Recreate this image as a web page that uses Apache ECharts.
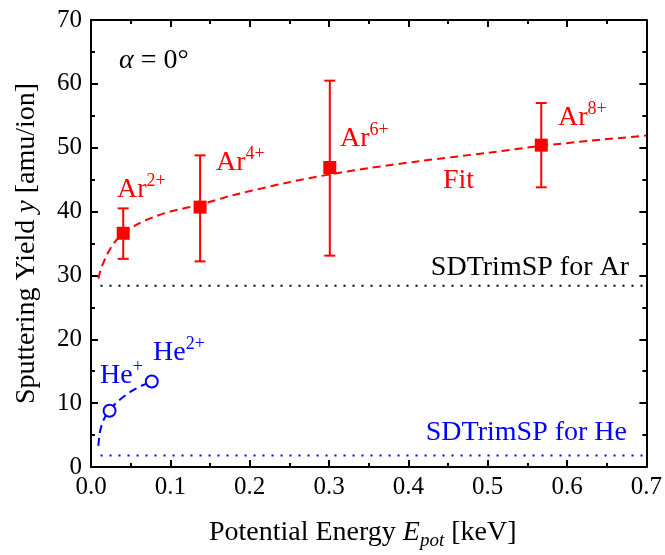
<!DOCTYPE html>
<html>
<head>
<meta charset="utf-8">
<script src="https://cdn.jsdelivr.net/npm/echarts@6/dist/echarts.min.js"></script>
<style>
  html, body { margin: 0; padding: 0; background: #fff; }
  #plot { width: 665px; height: 555px; }
</style>
</head>
<body>
<div id="plot"></div>
<script>
// Ar ion measurements (energy in keV, yield in amu/ion)
const arEnergy = [0.0406, 0.1375, 0.301, 0.5675];
const arYield = [36.6, 40.7, 46.9, 50.4];
const arErrLow = [32.6, 32.2, 33.1, 43.8];
const arErrHigh = [40.5, 48.8, 60.5, 57.0];
const arCharge = ['2+', '4+', '6+', '8+'];

// He ion measurements
const heEnergy = [0.0234, 0.0766];
const heYield = [8.8, 13.4];

// fit curves
const arFitX = [0.0093, 0.012, 0.015, 0.02, 0.028, 0.04, 0.06, 0.08, 0.1, 0.138, 0.18, 0.25, 0.3, 0.35, 0.414, 0.5, 0.568, 0.63, 0.7];
const arFitY = [29.5, 30.8, 31.8, 33.2, 34.9, 36.5, 38.1, 39.2, 40.0, 41.1, 42.6, 44.6, 45.8, 46.8, 47.9, 49.2, 50.3, 51.1, 51.9];
const heFitX = [0.0093, 0.011, 0.014, 0.018, 0.0234, 0.035, 0.05, 0.065, 0.0766];
const heFitY = [3.3, 5.3, 6.8, 7.9, 8.9, 10.4, 11.8, 12.8, 13.4];

// SDTrimSP reference levels
const sdtrimAr = 28.4;
const sdtrimHe = 1.8;
const sdtrimRange = [0.012, 0.7];

const FONT = 'Liberation Serif';
const RED = '#ff0000';
const BLUE = '#0000ff';

const chart = echarts.init(document.getElementById('plot'));

const pairs = (xs, ys) => xs.map((x, i) => [x, ys[i]]);

function axisX(pos, showLabels) {
    return {
        type: 'value', position: pos, min: 0, max: 0.7, interval: 0.1,
        axisLine: { show: true, onZero: false, lineStyle: { color: '#000', width: 2 } },
        axisTick: { show: true, inside: true, length: 7, lineStyle: { color: '#000', width: 2 } },
        minorTick: { show: true, splitNumber: 2, length: 4, lineStyle: { color: '#000', width: 2 } },
        splitLine: { show: false },
        axisLabel: {
            show: showLabels, margin: 8, color: '#000', fontFamily: FONT, fontSize: 25,
            formatter: v => v.toFixed(1)
        }
    };
}

function axisY(pos, showLabels) {
    return {
        type: 'value', position: pos, min: 0, max: 70, interval: 10,
        axisLine: { show: true, onZero: false, lineStyle: { color: '#000', width: 2 } },
        axisTick: { show: true, inside: true, length: 7, lineStyle: { color: '#000', width: 2 } },
        minorTick: { show: true, splitNumber: 2, length: 4, lineStyle: { color: '#000', width: 2 } },
        splitLine: { show: false },
        axisLabel: { show: showLabels, margin: 9, color: '#000', fontFamily: FONT, fontSize: 25 }
    };
}

const xBottom = axisX('bottom', true);
xBottom.name = '{n|Potential Energy }{i|E}{sub|pot}{n| [keV]}';
xBottom.nameLocation = 'middle';
xBottom.nameGap = 49;
xBottom.nameTextStyle = {
    padding: [0, 12, 0, 0],
    rich: {
        n: { fontFamily: FONT, fontSize: 28, color: '#000', lineHeight: 34 },
        i: { fontFamily: FONT, fontSize: 28, color: '#000', fontStyle: 'italic', lineHeight: 34 },
        sub: { fontFamily: FONT, fontSize: 19, color: '#000', fontStyle: 'italic', verticalAlign: 'bottom', lineHeight: 20 }
    }
};

const yLeft = axisY('left', true);
yLeft.name = '{n|Sputtering Yield }{i|y}{n| [amu/ion]}';
yLeft.nameLocation = 'middle';
yLeft.nameGap = 50;
yLeft.nameRotate = 90;
yLeft.nameTextStyle = {
    rich: {
        n: { fontFamily: FONT, fontSize: 28, color: '#000' },
        i: { fontFamily: FONT, fontSize: 28, color: '#000', fontStyle: 'italic' }
    }
};

function tag(x, y, main, sup, color, align) {
    const rich = {
        m: { fontFamily: FONT, fontSize: 28, fill: color, lineHeight: 36 },
        s: { fontFamily: FONT, fontSize: 18, fill: color, verticalAlign: 'top', lineHeight: 18 }
    };
    return {
        type: 'text', x: x, y: y, z: 100,
        style: {
            text: '{m|' + main + '}' + (sup ? '{s|' + sup + '}' : ''),
            rich: rich, fill: color, align: align || 'left', verticalAlign: 'top'
        }
    };
}

const arTagPos = [[117, 172], [216, 145], [340, 121], [558, 100]];
const graphics = arCharge.map((c, i) => tag(arTagPos[i][0], arTagPos[i][1], 'Ar', c, RED));
graphics.push(tag(443, 163, 'Fit', null, RED));
graphics.push(tag(100, 358, 'He', '+', BLUE));
graphics.push(tag(153, 335, 'He', '2+', BLUE));
graphics.push(tag(629, 250, 'SDTrimSP for Ar', null, '#000', 'right'));
graphics.push(tag(627, 415, 'SDTrimSP for He', null, BLUE, 'right'));
graphics.push({
    type: 'text', x: 119, y: 43, z: 100,
    style: {
        text: '{i|α}{m| = 0°}',
        rich: {
            i: { fontFamily: FONT, fontSize: 28, fill: '#000', fontStyle: 'italic', lineHeight: 36 },
            m: { fontFamily: FONT, fontSize: 28, fill: '#000', lineHeight: 36 }
        },
        verticalAlign: 'top'
    }
});

const option = {
    backgroundColor: '#fff',
    animation: false,
    grid: { left: 91, right: 18, top: 20, bottom: 86, containLabel: false },
    xAxis: [xBottom, axisX('top', false)],
    yAxis: [yLeft, axisY('right', false)],
    graphic: graphics,
    series: [
        {
            name: 'SDTrimSP Ar', type: 'line', symbol: 'none', silent: true,
            data: sdtrimRange.map(x => [x, sdtrimAr]),
            lineStyle: { color: '#000', width: 2, type: [2, 7] }
        },
        {
            name: 'SDTrimSP He', type: 'line', symbol: 'none', silent: true,
            data: sdtrimRange.map(x => [x, sdtrimHe]),
            lineStyle: { color: BLUE, width: 2, type: [2, 7] }
        },
        {
            name: 'Ar fit', type: 'line', symbol: 'none', smooth: 0.3,
            data: pairs(arFitX, arFitY),
            lineStyle: { color: RED, width: 2, type: [8, 5] }
        },
        {
            name: 'He fit', type: 'line', symbol: 'none', smooth: 0.3,
            data: pairs(heFitX, heFitY),
            lineStyle: { color: BLUE, width: 2, type: [8, 5] }
        },
        {
            name: 'Ar error', type: 'custom',
            data: arEnergy.map((x, i) => [x, arErrLow[i], arErrHigh[i]]),
            renderItem: (params, api) => {
                const lo = api.coord([api.value(0), api.value(1)]);
                const hi = api.coord([api.value(0), api.value(2)]);
                const cap = 5.5;
                const st = { stroke: RED, lineWidth: 2 };
                return {
                    type: 'group',
                    children: [
                        { type: 'line', shape: { x1: lo[0], y1: lo[1], x2: hi[0], y2: hi[1] }, style: st },
                        { type: 'line', shape: { x1: lo[0] - cap, y1: lo[1], x2: lo[0] + cap, y2: lo[1] }, style: st },
                        { type: 'line', shape: { x1: hi[0] - cap, y1: hi[1], x2: hi[0] + cap, y2: hi[1] }, style: st }
                    ]
                };
            },
            encode: { x: 0, y: [1, 2] },
            z: 3
        },
        {
            name: 'Ar', type: 'scatter', symbol: 'rect', symbolSize: 13,
            data: pairs(arEnergy, arYield),
            itemStyle: { color: RED, opacity: 1 },
            z: 4
        },
        {
            name: 'He', type: 'scatter', symbol: 'circle', symbolSize: 12,
            data: pairs(heEnergy, heYield),
            itemStyle: { color: '#fff', borderColor: BLUE, borderWidth: 2, opacity: 1 },
            z: 4
        }
    ]
};

chart.setOption(option);
</script>
</body>
</html>
